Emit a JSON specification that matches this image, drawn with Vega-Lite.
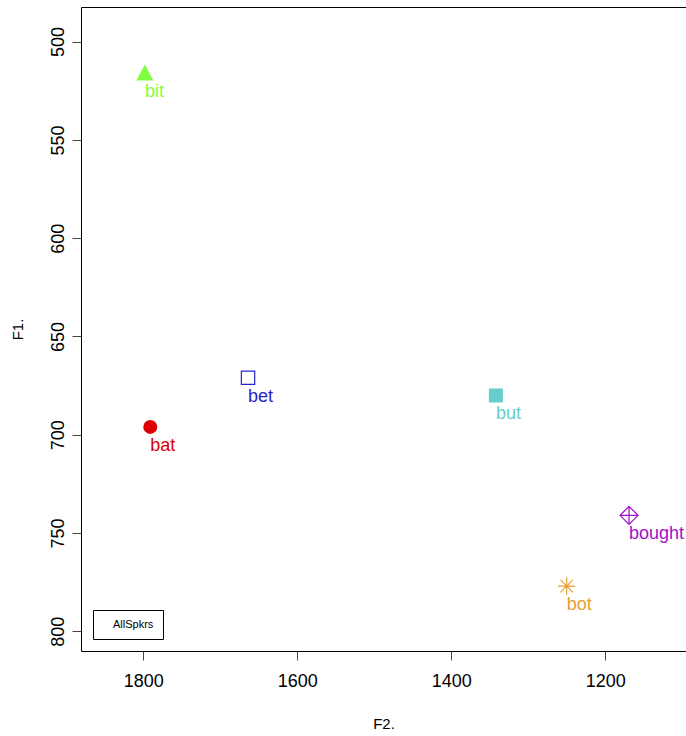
{
  "$schema": "https://vega.github.io/schema/vega-lite/v6.json",
  "width": 605,
  "height": 644,
  "autosize": {"type": "none"},
  "padding": {"left": 81, "top": 7, "right": 0, "bottom": 85},
  "background": "white",
  "config": {
    "view": {"stroke": "black", "strokeWidth": 1},
    "font": "Liberation Sans"
  },
  "data": {
    "values": [
      {"vowel": "bit", "F2": 1798, "F1": 516, "speakers": "AllSpkrs"},
      {"vowel": "bet", "F2": 1664, "F1": 671, "speakers": "AllSpkrs"},
      {"vowel": "bat", "F2": 1791, "F1": 696, "speakers": "AllSpkrs"},
      {"vowel": "but", "F2": 1342, "F1": 680, "speakers": "AllSpkrs"},
      {"vowel": "bought", "F2": 1169, "F1": 741, "speakers": "AllSpkrs"},
      {"vowel": "bot", "F2": 1250, "F1": 777, "speakers": "AllSpkrs"}
    ]
  },
  "encoding": {
    "x": {
      "field": "F2", "type": "quantitative",
      "scale": {"domain": [1095, 1881], "reverse": true, "nice": false, "zero": false},
      "axis": {
        "values": [1200, 1400, 1600, 1800], "format": "d", "domain": false, "grid": false,
        "tickSize": 9, "tickColor": "#444", "labelFontSize": 18, "labelColor": "black",
        "labelPadding": 12, "labelFont": "Liberation Sans",
        "title": "F2.", "titleFontSize": 15, "titleFontWeight": "normal", "titleColor": "black",
        "titleFont": "Liberation Sans", "titlePadding": 26
      }
    },
    "y": {
      "field": "F1", "type": "quantitative",
      "scale": {"domain": [482.4, 810], "reverse": true, "nice": false, "zero": false},
      "axis": {
        "values": [500, 550, 600, 650, 700, 750, 800], "format": "d", "domain": false, "grid": false,
        "tickSize": 9, "tickColor": "#444", "labelFontSize": 18, "labelColor": "black",
        "labelAngle": -90, "labelAlign": "center", "labelBaseline": "bottom",
        "labelPadding": 5, "labelFont": "Liberation Sans",
        "title": "F1.", "titleFontSize": 15, "titleFontWeight": "normal", "titleColor": "black",
        "titleFont": "Liberation Sans", "titlePadding": 24
      }
    }
  },
  "layer": [
    {
      "transform": [{"filter": "datum.vowel === 'bit'"}],
      "mark": {"type": "point", "shape": "M0,-1L1,0.88L-1,0.88Z", "filled": true, "size": 289, "color": "#80FF40", "opacity": 1}
    },
    {
      "transform": [{"filter": "datum.vowel === 'bet'"}],
      "mark": {"type": "point", "shape": "square", "filled": false, "size": 177, "color": "#2424CC", "strokeWidth": 1.2, "opacity": 1}
    },
    {
      "transform": [{"filter": "datum.vowel === 'bat'"}],
      "mark": {"type": "point", "shape": "circle", "filled": true, "size": 196, "color": "#DD0000", "opacity": 1}
    },
    {
      "transform": [{"filter": "datum.vowel === 'but'"}],
      "mark": {"type": "point", "shape": "square", "filled": true, "size": 196, "color": "#66CCCC", "opacity": 1}
    },
    {
      "transform": [{"filter": "datum.vowel === 'bought'"}],
      "mark": {"type": "point", "shape": "M0,-1L1,0L0,1L-1,0ZM0,-1L0,1M-1,0L1,0", "filled": false, "size": 324, "color": "#A010C8", "strokeWidth": 1.2, "opacity": 1}
    },
    {
      "transform": [{"filter": "datum.vowel === 'bot'"}],
      "mark": {"type": "point", "shape": "M-1,0L1,0M0,-1L0,1M-0.72,-0.72L0.72,0.72M-0.72,0.72L0.72,-0.72", "filled": false, "size": 300, "color": "#E69F33", "strokeWidth": 1.2, "opacity": 1}
    },
    {
      "mark": {"type": "text", "align": "left", "baseline": "alphabetic", "dx": 0, "dy": 24, "fontSize": 18, "font": "Liberation Sans"},
      "encoding": {
        "text": {"field": "vowel", "type": "nominal"},
        "color": {
          "field": "vowel", "type": "nominal",
          "scale": {
            "domain": ["bit", "bet", "bat", "but", "bought", "bot"],
            "range": ["#80FF40", "#2424CC", "#DD0000", "#66CCCC", "#A010C8", "#E69F33"]
          },
          "legend": null
        },
        "opacity": {
          "field": "speakers", "type": "nominal",
          "scale": {"domain": ["AllSpkrs"], "range": [1, 1]},
          "legend": {
            "orient": "bottom-left", "offset": 12, "title": null, "padding": 9,
            "strokeColor": "black", "fillColor": "white", "cornerRadius": 0,
            "labelFontSize": 11, "labelFont": "Liberation Sans", "labelColor": "black",
            "symbolSize": 25, "labelOffset": 0,
            "symbolOpacity": 0, "symbolStrokeColor": "transparent", "symbolFillColor": "transparent"
          }
        }
      }
    }
  ]
}
